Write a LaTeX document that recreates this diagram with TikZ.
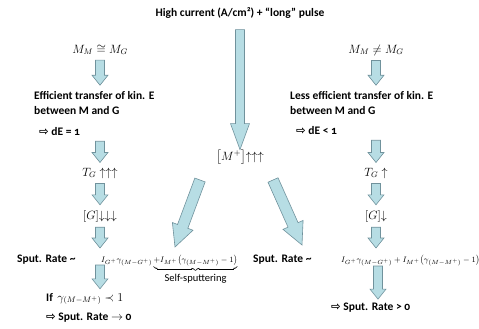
\documentclass[tikz,border=0pt]{standalone}
\usepackage{amsmath,amssymb}
\usepackage{fontspec}
\setmainfont{Carlito}[Numbers=OldStyle]
\newfontfamily\hollowarrow{DejaVu Sans}
\usepackage{tikz}
\usetikzlibrary{calc}
\definecolor{arrowfill}{RGB}{183,221,228}
\definecolor{arrowline}{RGB}{112,146,156}

% block arrow: start, tip, shaft half width, head half width, head length
\newcommand{\fatarrow}[5]{%
  \path (#1) coordinate (fa-s) (#2) coordinate (fa-e);
  \path ($(fa-e)!#5!(fa-s)$) coordinate (fa-h);
  \draw[fatarr] ($(fa-s)!#3!90:(fa-e)$) -- ($(fa-h)!#3!-90:(fa-s)$)
    -- ($(fa-h)!#4!-90:(fa-s)$) -- (fa-e) -- ($(fa-h)!#4!90:(fa-s)$)
    -- ($(fa-h)!#3!90:(fa-s)$) -- ($(fa-s)!#3!-90:(fa-e)$) -- cycle;
}

\begin{document}
\begin{tikzpicture}[x=1pt,y=-1pt,
  fatarr/.style={draw=arrowline, fill=arrowfill, line width=0.6pt, line join=miter},
  txt/.style={font=\bfseries\fontsize{11.5}{15}\selectfont, inner sep=1pt, align=left},
  mth/.style={font=\large, inner sep=1pt},
  frm/.style={font=\fontsize{8.5}{10}\selectfont, inner sep=1pt}]
  \useasboundingbox (0,0) rectangle (479,329);

  % top
  \node[txt] (title) at (240,13) {High current (A/cm²) + “long” pulse};
  \node[mth] (mplus) at (240,157) {$\bigl[M^{+}\bigr]\mathord{\uparrow\uparrow\uparrow}$};

  % left column
  \node[mth] (mmL) at (100,50) {$M_M \cong M_G$};
  \node[txt, anchor=west] (effL) at (33,103) {Efficient transfer of kin. E\\between M and G};
  \node[txt, anchor=west] (dEL) at (38,132) {{\hollowarrow ⇨} dE = 1};
  \node[mth] (TL) at (100,173) {$T_G\uparrow\uparrow\uparrow$};
  \node[mth] (GL) at (100,216) {$[G]\mathord{\downarrow\downarrow\downarrow}$};
  \node[txt, anchor=base west] (rateL) at (16,262) {Sput. Rate \textasciitilde};
  \node[frm, anchor=base west] (formL) at (100,262) {$I_{G^+}\gamma_{(M-G^+)}\underbrace{+I_{M^+}\bigl(\gamma_{(M-M^+)}-1\bigr)}_{\mbox{\normalfont\fontsize{10.5}{12}\selectfont Self-sputtering}}$};
  \node[txt, anchor=west] (ifL) at (45,299) {If \,{\mdseries\large$\gamma_{(M-M^+)}\prec 1$}};
  \node[txt, anchor=west] (concL) at (45,318) {{\hollowarrow ⇨} Sput. Rate $\rightarrow$ 0};

  % right column
  \node[mth] (mmR) at (376,50) {$M_M \neq M_G$};
  \node[txt, anchor=west] (effR) at (289,103) {Less efficient transfer of kin. E\\between M and G};
  \node[txt, anchor=west] (dER) at (295,131) {{\hollowarrow ⇨} dE < 1};
  \node[mth] (TR) at (376,173) {$T_G\uparrow$};
  \node[mth] (GR) at (376,216) {$[G]\mathord{\downarrow}$};
  \node[txt, anchor=base west] (rateR) at (252,262) {Sput. Rate \textasciitilde};
  \node[frm, anchor=base west] (formR) at (340,262) {$I_{G^+}\gamma_{(M-G^+)}+I_{M^+}\bigl(\gamma_{(M-M^+)}-1\bigr)$};
  \node[txt, anchor=west] (concR) at (330,308) {{\hollowarrow ⇨} Sput. Rate > 0};

  % arrows
  \fatarrow{$(title.south)+(0,10)$}{$(mplus.north)+(0,1)$}{4.5pt}{9.5pt}{26pt}
  \fatarrow{$(mplus.center)+(-40,23)$}{$(formL.base west)+(75,-15)$}{5.5pt}{11pt}{22pt}
  \fatarrow{$(mplus.center)+(33,23)$}{$(rateR.base west)+(50,-17)$}{5.5pt}{11pt}{22pt}

  \fatarrow{$(mmL.south)+(0,4)$}{$(mmL.south |- effL.north)+(0,-5)$}{4.5pt}{8pt}{10pt}
  \fatarrow{$(TL.north |- dEL.south)+(0,4)$}{$(TL.north)+(0,-4)$}{4.5pt}{8pt}{10pt}
  \fatarrow{$(TL.south)+(0,4)$}{$(GL.north)+(0,-4)$}{4.5pt}{8pt}{10pt}
  \fatarrow{$(GL.south)+(0,4)$}{$(GL.south |- formL.base)+(0,-14)$}{4.5pt}{8pt}{10pt}
  \fatarrow{$(GL.south |- formL.base)+(0,3)$}{$(GL.south |- ifL.north)+(0,-3)$}{4.5pt}{8pt}{10pt}

  \fatarrow{$(mmR.south)+(0,4)$}{$(mmR.south |- effR.north)+(0,-5)$}{4.5pt}{8pt}{10pt}
  \fatarrow{$(TR.north |- dER.south)+(0,4)$}{$(TR.north)+(0,-4)$}{4.5pt}{8pt}{10pt}
  \fatarrow{$(TR.south)+(0,4)$}{$(GR.north)+(0,-4)$}{4.5pt}{8pt}{10pt}
  \fatarrow{$(GR.south)+(0,4)$}{$(GR.south |- formR.base)+(0,-14)$}{4.5pt}{8pt}{10pt}
  \fatarrow{$(GR.south |- formR.base)+(2,4)$}{$(GR.south |- concR.north)+(2,-3)$}{4.5pt}{8pt}{10pt}
\end{tikzpicture}
\end{document}
